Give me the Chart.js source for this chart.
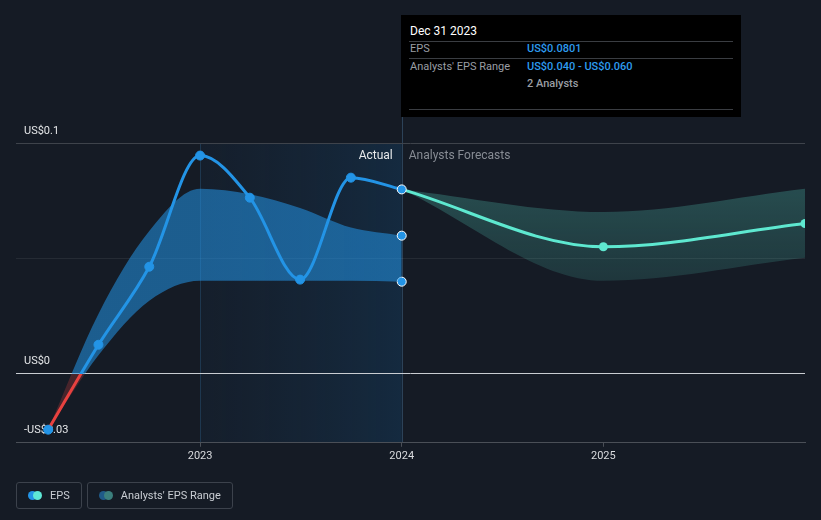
<!DOCTYPE html>
<html>
<head>
<meta charset="utf-8">
<script src="https://cdn.jsdelivr.net/npm/chart.js@4.4.1/dist/chart.umd.min.js"></script>
<style>
  body { margin: 0; background: #151b25; font-family: Roboto, sans-serif; }
  #wrap { position: relative; width: 821px; height: 520px; overflow: hidden; }
  #chart { position: absolute; left: 0; top: 0; }
  #tip { position: absolute; left: 401px; top: 15px; width: 340px; height: 102px; background: #000; font-size: 11px; }
  #tip .t { position: absolute; white-space: nowrap; line-height: 14px; }
  #tip .sep { position: absolute; left: 8px; width: 324px; height: 1px; background: #3a3d42; }
  .lab { color: #9a9ea4; }
  .val { color: #2d9cf0; font-weight: 500; }
  #legend { position: absolute; left: 16px; top: 482px; display: flex; gap: 5px; }
  .item { height: 25px; border: 1px solid #3c424c; border-radius: 3px; display: flex; align-items: center; padding: 0 11px 0 11px; color: #c9cdd3; font-size: 11px; }
  .dots { position: relative; width: 14px; height: 9px; margin-right: 8px; }
  .dots span { position: absolute; top: 0; width: 9px; height: 9px; border-radius: 50%; }
</style>
</head>
<body>
<div id="wrap">
  <canvas id="chart" width="821" height="520"></canvas>
  <div id="tip">
    <div class="t" style="left:9px;top:9px;color:#fff;font-size:12px;">Dec 31 2023</div>
    <div class="sep" style="top:26px;"></div>
    <div class="t lab" style="left:9px;top:27px;">EPS</div>
    <div class="t val" style="left:126px;top:27px;">US$0.0801</div>
    <div class="sep" style="top:43px;"></div>
    <div class="t lab" style="left:9px;top:45px;">Analysts' EPS Range</div>
    <div class="t val" style="left:126px;top:45px;">US$0.040 - US$0.060</div>
    <div class="t lab" style="left:126px;top:62px;font-weight:500;">2 Analysts</div>
    <div class="sep" style="top:94px;"></div>
  </div>
  <div id="legend">
    <div class="item"><div class="dots"><span style="left:0;background:#2394e6"></span><span style="left:5px;background:#5ee8d6"></span></div>EPS</div>
    <div class="item"><div class="dots"><span style="left:0;background:#1f5a88"></span><span style="left:5px;background:#3b7f7d"></span></div>Analysts' EPS Range</div>
  </div>
</div>
<script>
// Reported EPS (quarter ends) and the analysts' range behind it
const actualDates = ['2022-03-31', '2022-06-30', '2022-09-30', '2022-12-31', '2023-03-31', '2023-06-30', '2023-09-30', '2023-12-31'];
const actualEps   = [-0.0243, 0.0126, 0.0465, 0.0948, 0.0765, 0.0409, 0.0852, 0.0801];
const rangeHigh   = [-0.0243, 0.0260, 0.0620, 0.0804, 0.0780, 0.0720, 0.0635, 0.0600];
const rangeLow    = [-0.0243, 0.0080, 0.0317, 0.0404, 0.0404, 0.0404, 0.0404, 0.0400];

// Analysts forecasts
const forecastDates = ['2023-12-31', '2024-12-31', '2025-12-31'];
const forecastEps   = [0.0801, 0.0552, 0.0653];
const forecastHigh  = [0.0801, 0.0703, 0.0804];
const forecastLow   = [0.0801, 0.0404, 0.0504];

// axis
const yTicks = [-0.03, 0, 0.05, 0.1];
const yLabels = { '-0.03': '-US$0.03', '0': 'US$0', '0.1': 'US$0.1' };
const xTicks = [2023, 2024, 2025];
const actualStart = 2023, actualEnd = 2024;

const BLUE = '#2394e6', TEAL = '#5ee8d0', RED = '#e8413f';

function toYear(s) {
    var d = new Date(s + 'T00:00:00Z');
    var y = d.getUTCFullYear();
    var start = Date.UTC(y, 0, 1), end = Date.UTC(y + 1, 0, 1);
    return y + (d - start + 86400000) / (end - start);
}
function pts(dates, vals) {
    return dates.map((d, i) => ({ x: toYear(d), y: vals[i] }));
}

// colour above / below the zero line
function zeroSplit(above, below) {
    return function(c) {
        var chart = c.chart, area = chart.chartArea;
        if (!area) return above;
        var z = chart.scales.y.getPixelForValue(0);
        var t = Math.min(1, Math.max(0, (z - area.top) / (area.bottom - area.top)));
        var g = chart.ctx.createLinearGradient(0, area.top, 0, area.bottom);
        g.addColorStop(0, above); g.addColorStop(t, above);
        g.addColorStop(t, below); g.addColorStop(1, below);
        return g;
    };
}
function lastOnly(r) {
    return function(c) { return c.dataIndex === c.dataset.data.length - 1 ? r : 0; };
}

const bgPlugin = {
    id: 'bg',
    beforeDraw(chart) {
        const { ctx, chartArea, scales: { x, y } } = chart;
        const x0 = x.getPixelForValue(actualStart), x1 = x.getPixelForValue(actualEnd);
        const top = y.getPixelForValue(0.1);
        ctx.save();
        var g = ctx.createLinearGradient(x0, 0, x1, 0);
        g.addColorStop(0, 'rgba(25,60,95,0.12)');
        g.addColorStop(1, 'rgba(20,75,120,0.32)');
        ctx.fillStyle = g;
        ctx.fillRect(x0, top, x1 - x0, chartArea.bottom - top);
        ctx.fillStyle = 'rgba(40,80,115,0.5)';
        ctx.fillRect(Math.round(x0), top, 1, chartArea.bottom - top);
        ctx.fillStyle = '#2c4258';
        ctx.fillRect(Math.round(x1), 15, 1, chartArea.bottom - 15);
        ctx.restore();
    },
    beforeDatasetsDraw(chart) {
        const { ctx, scales: { x, y } } = chart;
        ctx.save();
        ctx.font = '11px Roboto';
        ctx.textBaseline = 'middle';
        ctx.fillStyle = '#e4e6e8';
        ctx.textAlign = 'left';
        Object.keys(yLabels).forEach(function(k) {
            ctx.fillText(yLabels[k], 24, y.getPixelForValue(Number(k)) - 12.5);
        });
        const xd = x.getPixelForValue(actualEnd);
        const ly = y.getPixelForValue(0.1) + 12;
        ctx.font = '12px Roboto';
        ctx.textAlign = 'right';
        ctx.fillStyle = '#e8eaec';
        ctx.fillText('Actual', xd - 9, ly);
        ctx.textAlign = 'left';
        ctx.fillStyle = '#878c94';
        ctx.fillText('Analysts Forecasts', xd + 7, ly);
        ctx.restore();
    }
};

Chart.defaults.font.family = 'Roboto';
Chart.defaults.font.size = 11;

const ctx = document.getElementById('chart').getContext('2d');
new Chart(ctx, {
    type: 'line',
    data: {
        datasets: [{
            label: 'EPS',
            data: pts(actualDates, actualEps),
            borderColor: zeroSplit(BLUE, RED),
            borderWidth: 3,
            cubicInterpolationMode: 'monotone',
            pointRadius: 4.5,
            pointBackgroundColor: BLUE,
            pointBorderColor: function(c) { return c.dataIndex === c.dataset.data.length - 1 ? '#ffffff' : BLUE; },
            pointBorderWidth: 1,
            fill: false
        }, {
            label: 'Forecast',
            data: pts(forecastDates, forecastEps),
            borderColor: TEAL,
            borderWidth: 3,
            cubicInterpolationMode: 'monotone',
            pointRadius: function(c) { return c.dataIndex === 0 ? 0 : 4.5; },
            pointBackgroundColor: TEAL,
            pointBorderWidth: 0,
            fill: false
        }, {
            label: 'Range high',
            data: pts(actualDates, rangeHigh),
            borderWidth: 0,
            cubicInterpolationMode: 'monotone',
            backgroundColor: zeroSplit('rgba(35,148,230,0.55)', 'rgba(190,60,60,0.30)'),
            fill: '+1',
            pointRadius: lastOnly(4.5),
            pointBackgroundColor: BLUE,
            pointBorderColor: '#ffffff',
            pointBorderWidth: 1
        }, {
            label: 'Range low',
            data: pts(actualDates, rangeLow),
            borderWidth: 0,
            cubicInterpolationMode: 'monotone',
            fill: false,
            pointRadius: lastOnly(4.5),
            pointBackgroundColor: BLUE,
            pointBorderColor: '#ffffff',
            pointBorderWidth: 1
        }, {
            label: 'Forecast high',
            data: pts(forecastDates, forecastHigh),
            borderWidth: 0,
            cubicInterpolationMode: 'monotone',
            backgroundColor: function(c) {
                var chart = c.chart, area = chart.chartArea;
                if (!area) return 'rgba(80,190,175,0.25)';
                var y = chart.scales.y;
                var g = chart.ctx.createLinearGradient(0, y.getPixelForValue(0.08), 0, y.getPixelForValue(0.04));
                g.addColorStop(0, 'rgba(80,190,175,0.30)');
                g.addColorStop(1, 'rgba(80,190,175,0.17)');
                return g;
            },
            fill: '+1',
            pointRadius: 0
        }, {
            label: 'Forecast low',
            data: pts(forecastDates, forecastLow),
            borderWidth: 0,
            cubicInterpolationMode: 'monotone',
            fill: false,
            pointRadius: 0
        }]
    },
    options: {
        responsive: false,
        animation: false,
        layout: { padding: { left: 16, right: 16, top: 4, bottom: 54 } },
        plugins: { legend: { display: false }, tooltip: { enabled: false } },
        scales: {
            x: {
                type: 'linear',
                min: 2022.087,
                max: 2026.0,
                afterBuildTicks: function(s) { s.ticks = xTicks.map(v => ({ value: v })); },
                ticks: { color: '#d9dbde', padding: 3, callback: v => String(v) },
                grid: { drawOnChartArea: false, drawTicks: true, tickLength: 4, color: '#4a4f57' },
                border: { color: '#4a4f57' }
            },
            y: {
                min: -0.03,
                max: 0.16,
                afterBuildTicks: function(s) { s.ticks = yTicks.map(v => ({ value: v })); },
                ticks: { display: false },
                grid: {
                    drawTicks: false,
                    color: function(c) {
                        var v = c.tick.value;
                        if (v === 0) return '#c9cdd2';
                        if (v === 0.05) return 'rgba(255,255,255,0.07)';
                        return '#3e434b';
                    }
                },
                border: { display: false }
            }
        }
    },
    plugins: [bgPlugin]
});
</script>
</body>
</html>
